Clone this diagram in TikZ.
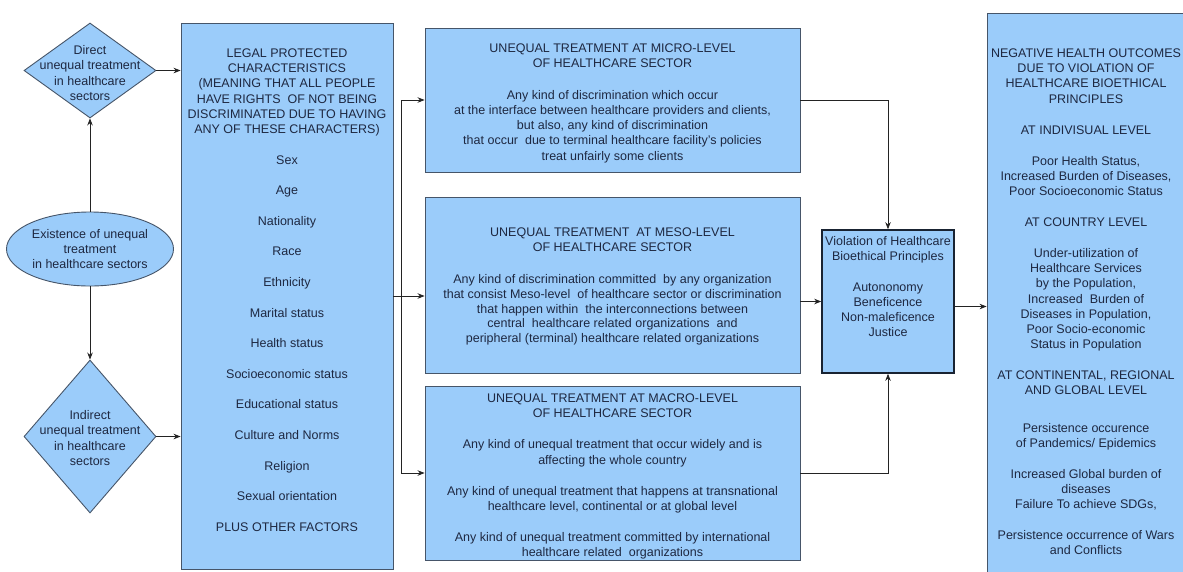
\documentclass[tikz,border=0pt]{standalone}
\usepackage{fontspec}
\setmainfont{Liberation Sans}
\usetikzlibrary{shapes.geometric,arrows.meta,calc}
\definecolor{boxfill}{RGB}{155,204,250}
\definecolor{boxline}{RGB}{70,85,105}
\definecolor{txtc}{RGB}{30,40,65}
\definecolor{linec}{RGB}{35,35,35}
\definecolor{strongline}{RGB}{25,35,50}
\tikzset{
 txt/.style={font=\fontsize{12.5}{15.2}\selectfont, text=txtc, align=center, inner sep=0pt},
 box/.style={draw=boxline, fill=boxfill, line width=0.9pt, inner sep=0pt},
 strongbox/.style={box, draw=strongline, line width=1.6pt},
 arr/.style={draw=linec, line width=0.8pt, -{Stealth[length=7pt,width=5.5pt]}},
}
\begin{document}
\begin{tikzpicture}[x=1pt,y=-1pt]
\useasboundingbox (0,0) rectangle (1183,571);
\clip (0,0) rectangle (1183,571);
\fill[white] (0,0) rectangle (1183,571);

% left column
\node[box, diamond, minimum width=132pt, minimum height=95pt] (d1) at (90,70.5) {};
\node[txt, anchor=north] (d1t) at (90,45.5) {Direct\\unequal treatment\\in healthcare\\sectors};
\node[box, ellipse, txt, minimum width=167pt, minimum height=74pt] (ell) at (90,249) {Existence of unequal\\treatment\\in healthcare sectors};
\node[box, diamond, minimum width=132pt, minimum height=153pt] (d2) at (90,436.5) {};
\node[txt, anchor=north] (d2t) at (90,410.5) {Indirect\\unequal treatment\\in healthcare\\sectors};

% legal box
\node[box, rectangle, minimum width=212pt, minimum height=546pt] (legal) at (287,296) {};
\node[txt, anchor=north] (legalt) at (287,48.5) {LEGAL PROTECTED\\CHARACTERISTICS\\(MEANING THAT ALL PEOPLE\\HAVE RIGHTS\ \ OF NOT BEING\\DISCRIMINATED DUE TO HAVING\\ANY OF THESE CHARACTERS)\\[15.4pt]Sex\\[15.4pt]Age\\[15.4pt]Nationality\\[15.4pt]Race\\[15.4pt]Ethnicity\\[15.4pt]Marital status\\[15.4pt]Health status\\[15.4pt]Socioeconomic status\\[15.4pt]Educational status\\[15.4pt]Culture and Norms\\[15.4pt]Religion\\[15.4pt]Sexual orientation\\[15.4pt]PLUS OTHER FACTORS};

% middle boxes
\node[box, rectangle, minimum width=375pt, minimum height=144pt] (micro) at (612.5,100) {};
\node[txt, anchor=north] (microt) at (612.5,43.5) {UNEQUAL TREATMENT AT MICRO-LEVEL\\OF HEALTHCARE SECTOR\\[16.5pt]Any kind of discrimination which occur\\at the interface between healthcare providers and clients,\\but also, any kind of discrimination\\that occur\ \ due to terminal healthcare facility's policies\\treat unfairly some clients};

\node[box, rectangle, minimum width=375pt, minimum height=176pt] (meso) at (612.5,285) {};
\node[txt, anchor=north, font=\fontsize{12.5}{14.7}\selectfont] (mesot) at (612.5,227.5) {UNEQUAL TREATMENT\ \ AT MESO-LEVEL\\OF HEALTHCARE SECTOR\\[18pt]Any kind of discrimination committed\ \ by any organization\\that consist Meso-level\ \ of healthcare sector or discrimination\\that happen within\ \ the interconnections between\\central\ \ healthcare related organizations\ \ and\\peripheral (terminal) healthcare related organizations};

\node[box, rectangle, minimum width=375pt, minimum height=174pt] (macro) at (612.5,473) {};
\node[txt, anchor=north] (macrot) at (612.5,393.5) {UNEQUAL TREATMENT AT MACRO-LEVEL\\OF HEALTHCARE SECTOR\\[16pt]Any kind of unequal treatment that occur widely and is\\affecting the whole country\\[16pt]Any kind of unequal treatment that happens at transnational\\healthcare level, continental or at global level\\[16pt]Any kind of unequal treatment committed by international\\healthcare related\ \ organizations};

% violation box
\node[strongbox, rectangle, minimum width=132pt, minimum height=143pt] (viol) at (888,301.5) {};
\node[txt, anchor=north] (violt) at (888,236.5) {Violation of Healthcare\\Bioethical Principles\\[15pt]Autononomy\\Beneficence\\Non-maleficence\\Justice};

% right box
\node[box, rectangle, minimum width=202pt, minimum height=567pt] (right) at (1088,296.5) {};
\node[txt, anchor=north] (rightt) at (1086,48.5) {NEGATIVE HEALTH OUTCOMES\\DUE TO VIOLATION OF\\HEALTHCARE BIOETHICAL\\PRINCIPLES\\[15.8pt]AT INDIVISUAL LEVEL\\[15.8pt]Poor Health Status,\\Increased Burden of Diseases,\\Poor Socioeconomic Status\\[15.8pt]AT COUNTRY LEVEL\\[15.8pt]Under-utilization of\\Healthcare Services\\by the Population,\\Increased\ \ Burden of\\Diseases in Population,\\Poor Socio-economic\\Status in Population\\[15.8pt]AT CONTINENTAL, REGIONAL\\AND GLOBAL LEVEL\\[22pt]Persistence occurence\\of Pandemics/ Epidemics\\[15.8pt]Increased Global burden of\\diseases\\Failure To achieve SDGs,\\[15.8pt]Persistence occurrence of Wars\\and Conflicts};

% connectors
\coordinate (j) at (401,296);
\draw[arr] (ell.north) -- (d1.south);
\draw[arr] (ell.south) -- (d2.north);
\draw[arr] (d1.east) -- (d1.east -| legal.west);
\draw[arr] (d2.east) -- (d2.east -| legal.west);
\draw[arr] (legal.east |- j) -- (meso.west |- j);
\draw[arr] (j) |- (micro.west);
\draw[arr] (j) |- (macro.west);
\draw[arr] (micro.east) -| (viol.north);
\draw[arr] (macro.east) -| (viol.south);
\draw[arr] (meso.east |- viol.west) -- (viol.west);
\coordinate (vo) at ($(viol.east)+(0,5)$);
\draw[arr] (vo) -- (vo -| right.west);
\end{tikzpicture}
\end{document}
